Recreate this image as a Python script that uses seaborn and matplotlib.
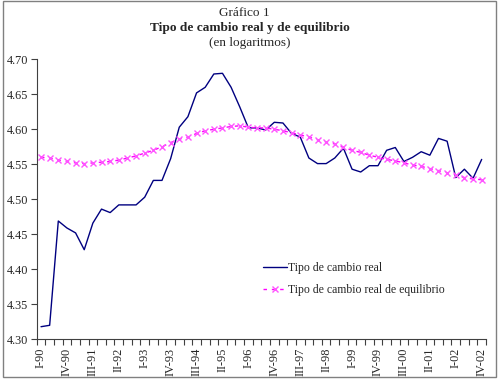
import matplotlib
matplotlib.use("Agg")
import matplotlib.pyplot as plt
from matplotlib.patches import Rectangle
from matplotlib.ticker import FixedLocator
import seaborn as sns
import numpy as np
import pandas as pd

years = ["90", "91", "92", "93", "94", "95", "96", "97", "98", "99", "00", "01", "02"]
quarters = ["I", "II", "III", "IV"]
periods = [f"{q}-{y}" for y in years for q in quarters]

real = [4.318, 4.320, 4.469, 4.459, 4.452, 4.428, 4.466, 4.486, 4.481, 4.492,
        4.492, 4.492, 4.503, 4.527, 4.527, 4.558, 4.603, 4.618, 4.652, 4.660,
        4.679, 4.680, 4.660, 4.632, 4.602, 4.602, 4.599, 4.610, 4.609, 4.594,
        4.589, 4.559, 4.551, 4.551, 4.559, 4.573, 4.543, 4.539, 4.548, 4.548,
        4.570, 4.574, 4.554, 4.560, 4.568, 4.563, 4.587, 4.583, 4.531, 4.543,
        4.530, 4.557]

equilibrio = [4.560, 4.559, 4.556, 4.554, 4.552, 4.551, 4.552, 4.553, 4.554, 4.556,
              4.559, 4.562, 4.566, 4.570, 4.575, 4.581, 4.586, 4.589, 4.594, 4.598,
              4.600, 4.602, 4.604, 4.605, 4.603, 4.602, 4.602, 4.600, 4.598, 4.595,
              4.592, 4.589, 4.585, 4.582, 4.579, 4.574, 4.570, 4.567, 4.563, 4.560,
              4.557, 4.555, 4.552, 4.549, 4.547, 4.544, 4.541, 4.538, 4.535, 4.531,
              4.529, 4.528]

yticks = [4.30, 4.35, 4.40, 4.45, 4.50, 4.55, 4.60, 4.65, 4.70]

sns.set_style("white")
plt.rcParams["font.family"] = ["Liberation Serif", "DejaVu Serif"]

fig = plt.figure(figsize=(4.99, 3.83), dpi=100)
ax = fig.add_axes([36.7 / 499, 1 - 339.3 / 383, (486 - 36.7) / 499, (339.3 - 59.3) / 383])

idx = np.arange(len(periods))
df = pd.DataFrame({"idx": idx, "real": real, "eq": equilibrio})

sns.lineplot(data=df, x="idx", y="real", ax=ax, color="#000080", linewidth=1.0,
             label="Tipo de cambio real")
sns.lineplot(data=df, x="idx", y="eq", ax=ax, color="#FF00FF", linewidth=1.0,
             linestyle=(0, (2.5, 3.5)), marker="x", markersize=4, markeredgewidth=1.0,
             markeredgecolor="#FF55FF", markerfacecolor="#FF55FF",
             label="Tipo de cambio real de equilibrio")

ax.set_xlim(-0.5, len(periods) - 0.5)
ax.set_ylim(4.30, 4.70)
ax.set_yticks(yticks)
ax.set_yticklabels([f"{v:.2f}" for v in yticks], fontsize=8.8)

label_pos = idx[::3]
ax.set_xticks(label_pos)
ax.set_xticklabels([periods[i] for i in label_pos], rotation=90, fontsize=8.8)
ax.xaxis.set_minor_locator(FixedLocator(np.arange(-0.5, len(periods), 1.0)))
ax.tick_params(axis="x", which="major", length=0, pad=6)
ax.tick_params(axis="x", which="minor", length=4, width=0.8, color="#404040", direction="out", bottom=True)
ax.tick_params(axis="y", which="major", length=4, width=0.8, color="#404040", direction="out", left=True, pad=2)
ax.set_xlabel("")
ax.set_ylabel("")

for s in ["top", "right"]:
    ax.spines[s].set_visible(False)
for s in ["left", "bottom"]:
    ax.spines[s].set_color("#404040")
    ax.spines[s].set_linewidth(0.8)

leg = ax.legend(loc="upper left", bbox_to_anchor=(0.48, 0.315), frameon=False,
                fontsize=8.5, handlelength=2.0, handletextpad=0.15, labelspacing=0.9)

fig.text(0.49, 1 - 13 / 383, "Gráfico 1", ha="center", va="center", fontsize=9.5)
fig.text(0.50, 1 - 28 / 383, "Tipo de cambio real y de equilibrio", ha="center", va="center",
         fontsize=9.6, fontweight="bold")
fig.text(0.50, 1 - 43 / 383, "(en logaritmos)", ha="center", va="center", fontsize=9.5)

fig.patches.append(Rectangle((3 / 499, 1 - 377 / 383), 493 / 499, 376 / 383,
                             transform=fig.transFigure, fill=False,
                             edgecolor="#808080", linewidth=1.0))

fig.savefig("out.png", dpi=100)
